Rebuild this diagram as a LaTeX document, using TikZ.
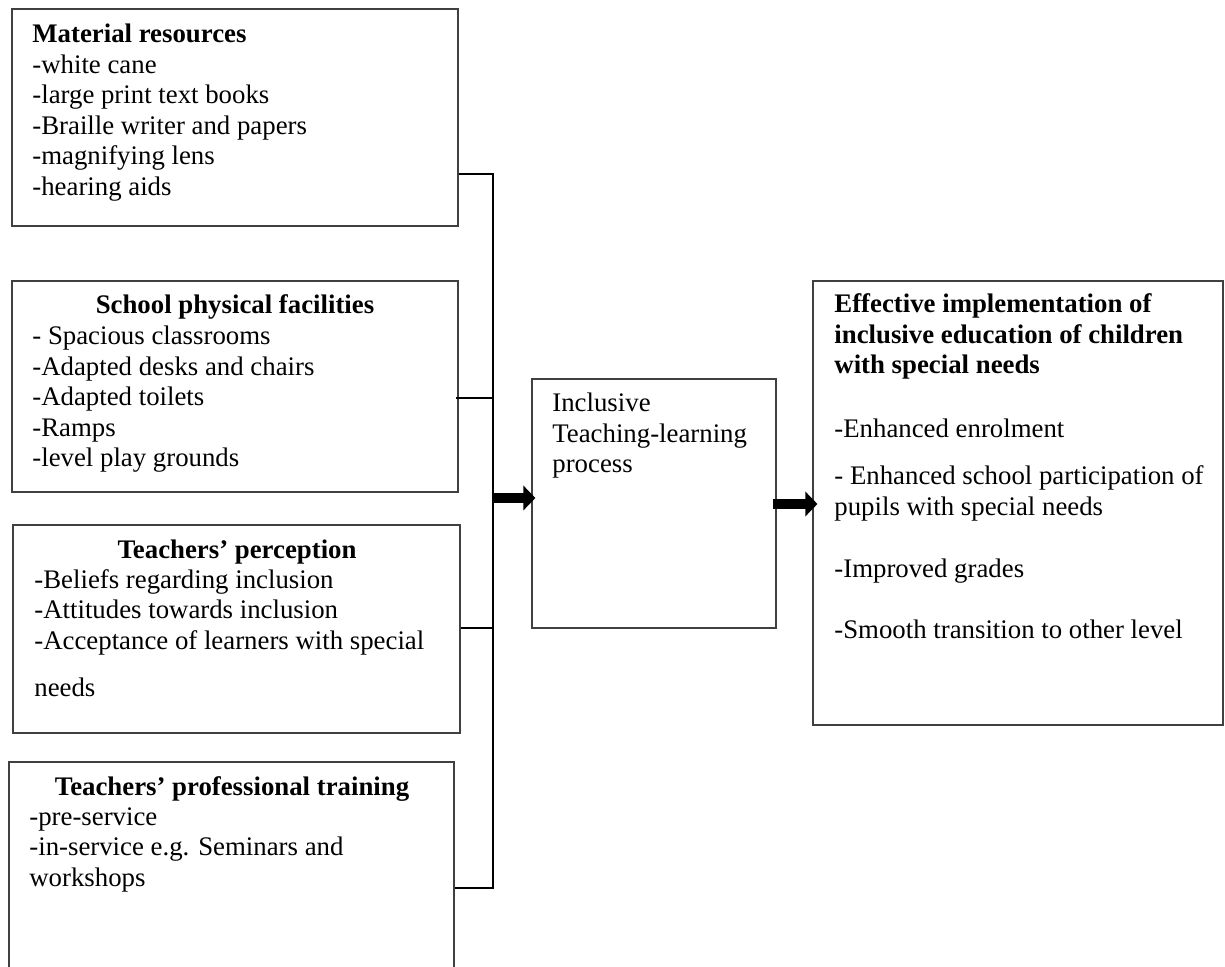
\documentclass[tikz,border=0pt]{standalone}
\usepackage{fontspec}
\setmainfont{Liberation Serif}
\usetikzlibrary{arrows.meta}
\begin{document}
\begin{tikzpicture}[x=0.5pt,y=-0.5pt,
  every node/.style={font=\fontsize{13.4}{15.25}\selectfont},
  box/.style={draw=black!75, line width=0.55pt, inner sep=0pt},
  txt/.style={anchor=base west, inner sep=0pt},
  ttl/.style={anchor=base, inner sep=0pt, font=\fontsize{13.4}{15.25}\selectfont\bfseries},
  bus/.style={draw=black, line width=0.75pt},
  blockarrow/.style={line width=5pt, -{Triangle[length=6pt,width=12pt]}}
]
\clip (0,0) rectangle (1225,967);
\fill[white] (0,0) rectangle (1225,967);

% boxes
\node[box, minimum width=223pt, minimum height=108.5pt] (mat) at (235,117.5) {};
\node[box, minimum width=223pt, minimum height=105.5pt] (phy) at (235,386.5) {};
\node[box, minimum width=223.5pt, minimum height=104pt] (per) at (236.5,629) {};
\node[box, minimum width=222.5pt, minimum height=114pt] (tra) at (231.5,876) {};
\node[box, minimum width=122pt, minimum height=124.5pt] (itl) at (654,503.5) {};
\node[box, minimum width=205pt, minimum height=222pt] (eff) at (1018,503) {};

% texts
\node[txt] (matT) at (32,43) {\begin{tabular}[t]{@{}l@{}}\textbf{Material resources}\\-white cane\\-large print text books\\-Braille writer and papers\\-magnifying lens\\-hearing aids\end{tabular}};

\node[ttl] (phyH) at (235,314) {School physical facilities};
\node[txt] (phyT) at (32,345) {\begin{tabular}[t]{@{}l@{}}- Spacious classrooms\\-Adapted desks and chairs\\-Adapted toilets\\-Ramps\\-level play grounds\end{tabular}};

\node[ttl] (perH) at (237,558) {Teachers’ perception};
\node[txt] (perT) at (34,588) {\begin{tabular}[t]{@{}l@{}}-Beliefs regarding inclusion\\-Attitudes towards inclusion\\-Acceptance of learners with special\\[8.25pt]needs\end{tabular}};

\node[ttl] (traH) at (232,795) {Teachers’ professional training};
\node[txt] (traT) at (29,825) {\begin{tabular}[t]{@{}l@{}}-pre-service\\-in-service e.g. Seminars and\\workshops\end{tabular}};

\node[txt] (itlT) at (552,412) {\begin{tabular}[t]{@{}l@{}}Inclusive\\Teaching-learning\\process\end{tabular}};

\node[txt] (effH) at (834,313) {\begin{tabular}[t]{@{}l@{}}\bfseries Effective implementation of\\\bfseries inclusive education of children\\\bfseries with special needs\end{tabular}};
\node[txt] (effT) at (834,438) {\begin{tabular}[t]{@{}l@{}}-Enhanced enrolment\\[8.25pt]- Enhanced school participation of\\pupils with special needs\\[15.75pt]-Improved grades\\[15.25pt]-Smooth transition to other level\end{tabular}};

% bus connectors
\coordinate (c1) at (493,174);
\coordinate (c2) at (493,398);
\coordinate (c3) at (493,628);
\coordinate (c4) at (493,888);
\draw[bus] (mat.east |- c1) -- (c1) -- (c4) -- (tra.east |- c4);
\draw[bus] ([xshift=-1.5pt]phy.east |- c2) -- (c2);
\draw[bus] (per.east |- c3) -- (c3);

% block arrows
\coordinate (a1) at (493,498);
\coordinate (a2) at (773,504);
\draw[blockarrow, shorten >=-2pt] (a1) -- (itl.west |- a1);
\draw[blockarrow, shorten >=-2.5pt] (a2) -- (eff.west |- a2);
\end{tikzpicture}
\end{document}
